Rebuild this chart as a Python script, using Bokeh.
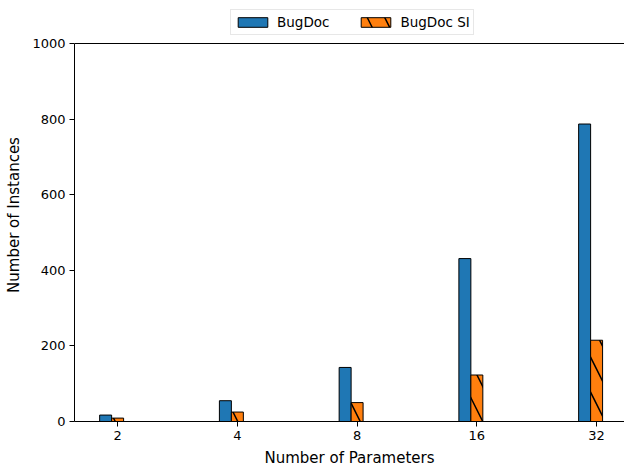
from bokeh.plotting import figure
from bokeh.models import ColumnDataSource, FixedTicker, Legend, LegendItem, Span, Range1d
from bokeh.embed import file_html
from bokeh.resources import INLINE

# ---- data ----
params = ["2", "4", "8", "16", "32"]
bugdoc = [17, 55, 143, 431, 787]
bugdoc_si = [9, 25, 50, 123, 215]
series_names = ["BugDoc", "BugDoc SI"]
y_ticks = [0, 200, 400, 600, 800, 1000]
y_max = 1000

bar_w = 0.1
idx = list(range(len(params)))
src = ColumnDataSource(dict(
    x_b=[i - bar_w for i in idx],
    x_s=idx,
    b=bugdoc,
    s=bugdoc_si,
))

# frame extends a little above y_max so the legend can sit inside it
p = figure(frame_width=550, frame_height=413, output_backend="svg", toolbar_location=None,
           title=None,
           x_range=Range1d(-0.36, 4.233), y_range=Range1d(0, 1092.6),
           min_border_left=74, min_border_right=0, min_border_top=8, min_border_bottom=0)
p.xgrid.visible = False
p.ygrid.visible = False
p.outline_line_color = None

r1 = p.vbar(x="x_b", top="b", width=bar_w, source=src, fill_color="#1f77b4",
            line_color="black", line_width=1)
r2 = p.vbar(x="x_s", top="s", width=bar_w, source=src, fill_color="#ff7f0e",
            line_color="black", line_width=1, hatch_pattern="\\", hatch_scale=35,
            hatch_weight=1.5, hatch_color="black")

legend = Legend(items=[LegendItem(label=series_names[0], renderers=[r1]),
                       LegendItem(label=series_names[1], renderers=[r2])],
                orientation="horizontal", location=(156, 386), margin=0,
                padding=3, spacing=28, glyph_width=37, glyph_height=12,
                label_height=18, label_standoff=6,
                label_text_font="DejaVu Sans", label_text_font_size="13.5px",
                label_text_color="black",
                border_line_color="#d0d0d0", border_line_width=1,
                background_fill_color="white", background_fill_alpha=1.0)
p.add_layout(legend)

# top spine
p.add_layout(Span(location=y_max, dimension="width", line_color="black", line_width=1))

p.xaxis.ticker = FixedTicker(ticks=idx)
p.xaxis.major_label_overrides = {i: lab for i, lab in zip(idx, params)}
p.yaxis.ticker = FixedTicker(ticks=y_ticks)
p.yaxis.bounds = (0, y_max)
p.xaxis.axis_label = "Number of Parameters"
p.yaxis.axis_label = "Number of Instances"

for ax in (p.xaxis[0], p.yaxis[0]):
    ax.major_tick_out = 5
    ax.major_tick_in = 0
    ax.minor_tick_line_color = None
    ax.axis_line_color = "black"
    ax.major_tick_line_color = "black"
    ax.major_label_text_font = "DejaVu Sans"
    ax.major_label_text_font_size = "13px"
    ax.major_label_text_color = "black"
    ax.axis_label_text_font = "DejaVu Sans"
    ax.axis_label_text_font_size = "15px"
    ax.axis_label_text_font_style = "normal"
    ax.axis_label_text_color = "black"
    ax.major_label_standoff = 4
    ax.axis_label_standoff = 6

open("out.html", "w").write(file_html(p, INLINE))
